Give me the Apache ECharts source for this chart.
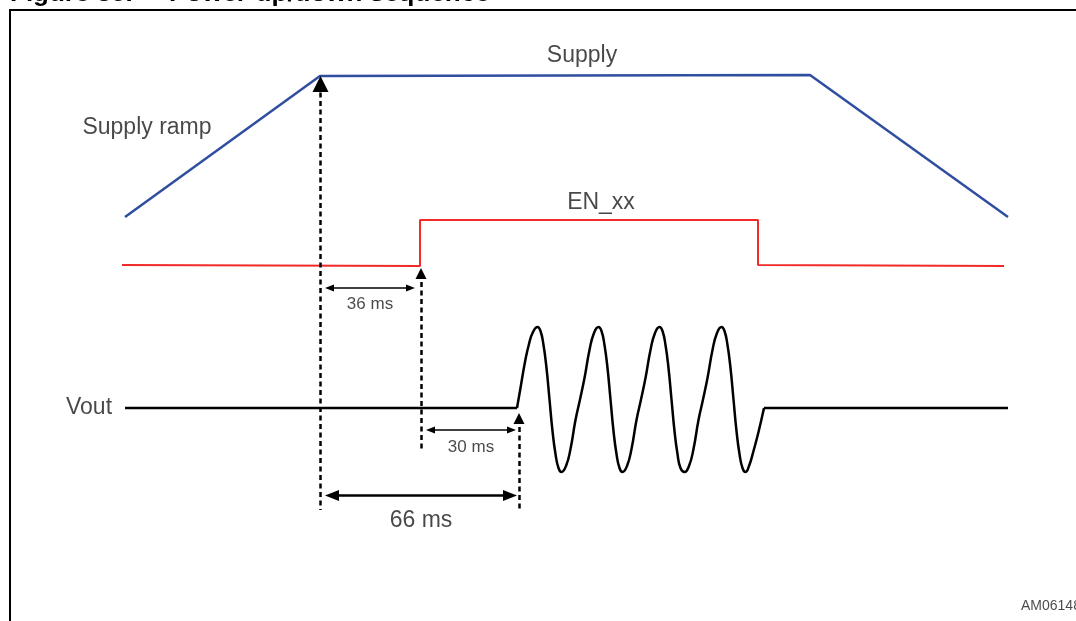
<!DOCTYPE html>
<html>
<head>
<meta charset="utf-8">
<script src="https://cdn.jsdelivr.net/npm/echarts@6/dist/echarts.min.js"></script>
<style>
html,body{margin:0;padding:0;background:#fff;}
#c{width:1076px;height:621px;}
</style>
</head>
<body>
<div id="c"></div>
<script>
// ---- Data (schematic coordinates in drawing units, x = time axis, y = level) ----
const TITLE = 'Figure 35.     Power-up/down sequence';
const supplyPts = [[125, 217], [320, 76], [810, 75], [1008, 217]];
const enPts = [[122, 265], [420, 266], [420, 220], [758, 220], [758, 265], [1004, 266]];
const voutLeft = [[125, 408], [517, 408]];
const voutWave = [
  [517, 408], [521, 385], [525, 362], [529, 344], [533, 332], [537.5, 327],
  [540.5, 331], [543.5, 345], [546.5, 368], [549.5, 399.5], [552.5, 431], [555.5, 454], [558.5, 468], [561.5, 472],
  [566, 466], [570.5, 449], [575.5, 420], [580, 399.5], [584.5, 378], [589.5, 350], [594, 333], [598.5, 327],
  [601.5, 331], [604.5, 345], [607.5, 368], [610.5, 399.5], [613.5, 431], [616.5, 454], [619.5, 468], [622.5, 472],
  [627, 466], [631.5, 449], [636.5, 420], [641, 399.5], [645.5, 378], [650.5, 350], [655, 333], [659.5, 327],
  [662.5, 331], [665.5, 345], [668.5, 368], [671.5, 399.5], [674.5, 431], [677.5, 454], [680.5, 468], [684.5, 472],
  [689, 466], [693.5, 449], [698.5, 420], [703, 399.5], [707.5, 378], [712.5, 350], [717, 333], [721.5, 327],
  [724.5, 331], [727.5, 345], [730.5, 368], [733.5, 399.5], [736.5, 431], [739.5, 454], [742.5, 468], [745.5, 472],
  [749, 466], [753.5, 451], [758.5, 432], [764, 408]
];
const voutRight = [[764, 408], [1008, 408]];
// dashed markers: [x, yTop(arrow tip), yBottom, arrowSize]
const dashedMarkers = [[320.5, 76, 510, 16], [421, 268, 450, 11], [519, 413, 510, 11]];
// timing spans: [xStart, xEnd, y, arrowSize, lineWidth]
const spans = [[325, 415, 288, 9, 1.5], [426, 516, 430, 9, 1.5], [325, 517, 495.5, 14, 2.5]];
// text labels: [text, x, y, fontSize, align]
const labels = [
  ['Supply ramp', 147, 128, 23, 'center'],
  ['Supply', 582, 56, 23, 'center'],
  ['EN_xx', 601, 203, 23, 'center'],
  ['Vout', 89, 408, 23, 'center'],
  ['36 ms', 370, 304, 17, 'center'],
  ['30 ms', 471, 447, 17, 'center'],
  ['66 ms', 421, 521, 23, 'center'],
  ['AM06148', 1021, 606, 14, 'left']
];

const FONT = '"Liberation Sans", Arial, sans-serif';
const chart = echarts.init(document.getElementById('c'));

const markLineData = [];
dashedMarkers.forEach(function (d) {
  markLineData.push([
    {coord: [d[0], d[1] + d[3] / 2], symbol: 'triangle', symbolSize: [d[3], d[3]],
     lineStyle: {type: [5, 3.5], width: 2.5, color: '#000'}},
    {coord: [d[0], d[2]], symbol: 'none'}
  ]);
});
spans.forEach(function (s) {
  markLineData.push([
    {coord: [s[0] + s[3] / 2, s[2]], symbol: 'triangle', symbolSize: [s[3] * 0.8, s[3]],
     lineStyle: {type: 'solid', width: s[4], color: '#000'}},
    {coord: [s[1] - s[3] / 2, s[2]], symbol: 'triangle', symbolSize: [s[3] * 0.8, s[3]]}
  ]);
});

chart.setOption({
  animation: false,
  grid: {left: 0, right: 0, top: 0, bottom: 0},
  xAxis: {type: 'value', min: 0, max: 1076, show: false},
  yAxis: {type: 'value', min: 0, max: 621, inverse: true, show: false},
  graphic: [
    {type: 'rect', shape: {x: 10, y: 10, width: 1200, height: 800},
     style: {fill: 'none', stroke: '#000', lineWidth: 2}, z: 1},
    {type: 'text', x: 10, y: -19,
     style: {text: TITLE, font: 'bold 26px ' + FONT, fill: '#000', textVerticalAlign: 'top'}}
  ],
  series: [
    {type: 'line', name: 'Supply', data: supplyPts, symbol: 'none',
     lineStyle: {color: '#2f4e9f', width: 2.5}},
    {type: 'line', name: 'EN_xx', data: enPts, symbol: 'none',
     lineStyle: {color: '#f22a2a', width: 2}},
    {type: 'line', name: 'VoutL', data: voutLeft, symbol: 'none',
     lineStyle: {color: '#000', width: 2.5}},
    {type: 'line', name: 'VoutWave', data: voutWave, symbol: 'none', smooth: 0.5,
     lineStyle: {color: '#000', width: 2.5}},
    {type: 'line', name: 'VoutR', data: voutRight, symbol: 'none',
     lineStyle: {color: '#000', width: 2.5}},
    {type: 'line', name: 'markers', data: [], symbol: 'none',
     markLine: {silent: true, animation: false, label: {show: false},
       emphasis: {disabled: true}, data: markLineData}},
    {type: 'scatter', name: 'labels', symbolSize: 0, silent: true,
     data: labels.map(function (l) {
       return {value: [l[1], l[2]], label: {show: true, position: 'inside', formatter: l[0],
         fontSize: l[3], align: l[4], color: '#1a1a1a', fontFamily: FONT}};
     })}
  ]
});
</script>
</body>
</html>
